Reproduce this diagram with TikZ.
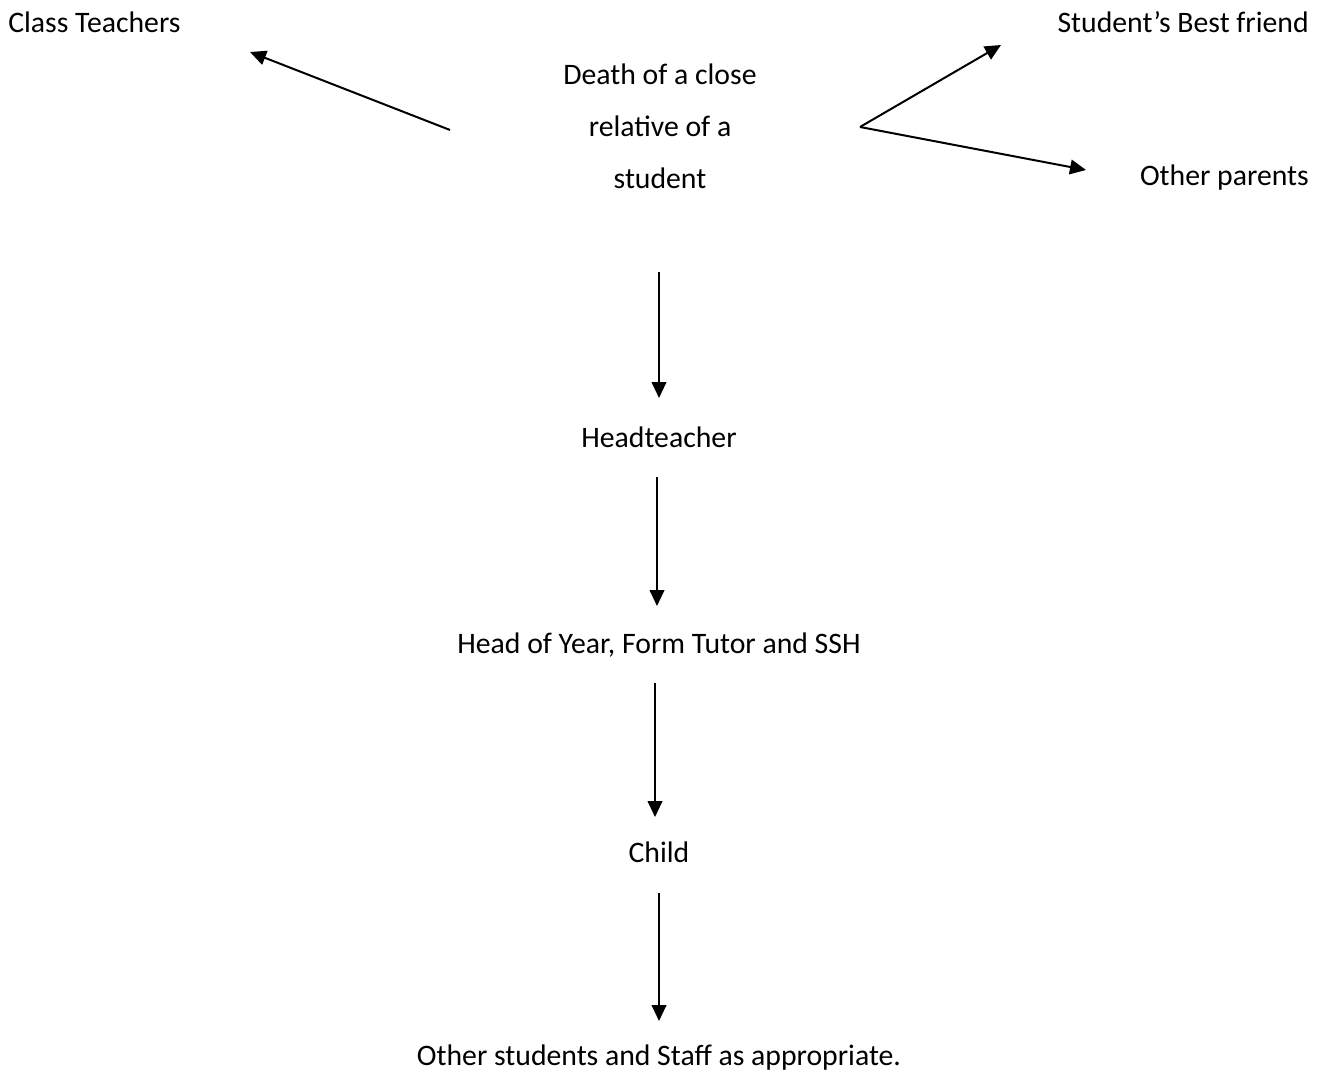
\documentclass[tikz,border=0pt]{standalone}
\usepackage{fontspec}
\setmainfont{Carlito}
\usetikzlibrary{arrows.meta}
\begin{document}
\begin{tikzpicture}[x=0.75pt,y=-0.75pt,
  lbl/.style={inner sep=0pt,font=\fontsize{22.3}{26}\selectfont},
  arr/.style={line width=1.5pt,-{Triangle[length=12pt,width=11pt]}}]
\useasboundingbox (0,0) rectangle (1327,1080);
\node[lbl,anchor=west] (ct) at (8,22) {Class Teachers};
\node[lbl,anchor=east] (bf) at (1309,22) {Student’s Best friend};
\node[lbl] (d1) at (660,74) {Death of a close};
\node[lbl] (d2) at (660,126) {relative of a};
\node[lbl] (d3) at (660,178) {student};
\node[lbl,anchor=east] (op) at (1309,178) {Other parents};
\node[lbl] (ht) at (659,437) {Headteacher};
\node[lbl] (hy) at (659,645) {Head of Year, Form Tutor and SSH};
\node[lbl] (ch) at (659,852) {Child};
\node[lbl] (os) at (659,1058) {Other students and Staff as appropriate.};
\coordinate (a1s) at (450,130); \coordinate (a1e) at (250,52);
\coordinate (v) at (860,127);
\coordinate (a2e) at (1001,45); \coordinate (a3e) at (1086,170);
\coordinate (b1s) at (659,272); \coordinate (b1e) at (659,398);
\coordinate (b2s) at (657,477); \coordinate (b2e) at (657,606);
\coordinate (b3s) at (655,683); \coordinate (b3e) at (655,817);
\coordinate (b4s) at (659,893); \coordinate (b4e) at (659,1021);
\draw[arr] (a1s) -- (a1e);
\draw[arr] (v) -- (a2e);
\draw[arr] (v) -- (a3e);
\draw[arr] (b1s) -- (b1e);
\draw[arr] (b2s) -- (b2e);
\draw[arr] (b3s) -- (b3e);
\draw[arr] (b4s) -- (b4e);
\end{tikzpicture}
\end{document}
